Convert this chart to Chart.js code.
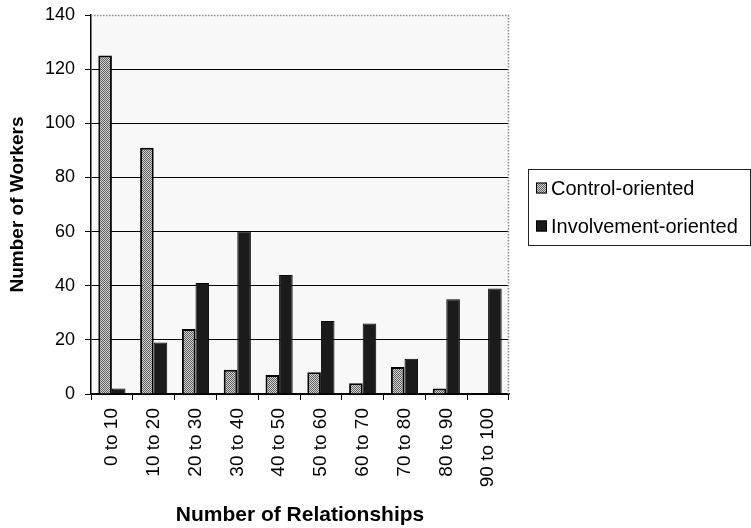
<!DOCTYPE html>
<html>
<head>
<meta charset="utf-8">
<script src="https://cdn.jsdelivr.net/npm/chart.js@4/dist/chart.umd.min.js"></script>
<style>
  html, body { margin: 0; padding: 0; background: #ffffff; }
  #c { display: block; }
</style>
</head>
<body>
<canvas id="c" width="751" height="528"></canvas>
<script>
// Distribution of workers by number of relationships
const categories = ['0 to 10', '10 to 20', '20 to 30', '30 to 40', '40 to 50',
                    '50 to 60', '60 to 70', '70 to 80', '80 to 90', '90 to 100'];
const controlOriented     = [125, 91, 24, 9, 7, 8, 4, 10, 2, 0];
const involvementOriented = [2, 19, 41, 60, 44, 27, 26, 13, 35, 39];
const seriesNames = ['Control-oriented', 'Involvement-oriented'];
const yTicks = [0, 20, 40, 60, 80, 100, 120, 140];

const FONT = "'Liberation Sans', Arial, Helvetica, sans-serif";

// Stippled grey fill used for the control-oriented bars
function makeStipple() {
  const p = document.createElement('canvas');
  p.width = 2; p.height = 2;
  const g = p.getContext('2d');
  g.fillStyle = '#d6d6d6'; g.fillRect(0, 0, 2, 2);
  g.fillStyle = '#5c5c5c'; g.fillRect(0, 0, 1, 1); g.fillRect(1, 1, 1, 1);
  return g.createPattern(p, 'repeat');
}

const ctx = document.getElementById('c').getContext('2d');
const stipple = makeStipple();
const seriesFills = [stipple, '#1b1b1b'];

// Plot background, dotted frame and boxed legend
const decorations = {
  id: 'decorations',
  beforeDraw(chart) {
    const { ctx, chartArea: a } = chart;
    ctx.save();
    ctx.fillStyle = '#f8f8f8';
    ctx.fillRect(a.left, a.top, a.right - a.left, a.bottom - a.top);
    ctx.restore();
  },
  afterDraw(chart) {
    const { ctx, chartArea: a } = chart;
    ctx.save();
    // dotted top / right frame
    ctx.strokeStyle = '#8a8a8a';
    ctx.lineWidth = 1.5;
    ctx.setLineDash([1.5, 1.5]);
    ctx.beginPath();
    ctx.moveTo(a.left, a.top + 0.5);
    ctx.lineTo(a.right - 0.5, a.top + 0.5);
    ctx.lineTo(a.right - 0.5, a.bottom);
    ctx.stroke();
    ctx.setLineDash([]);

    // legend
    const lx = 528.5, ly = 169.5, lw = 222, lh = 76;
    ctx.strokeStyle = '#222';
    ctx.lineWidth = 1;
    ctx.strokeRect(lx, ly, lw, lh);
    ctx.font = '20px ' + FONT;
    ctx.textBaseline = 'middle';
    ctx.textAlign = 'left';
    const rows = [188, 226];
    chart.data.datasets.forEach((ds, i) => {
      const cy = rows[i];
      ctx.fillStyle = seriesFills[i];
      ctx.fillRect(536, cy - 5.5, 11, 11);
      ctx.strokeStyle = '#000';
      ctx.lineWidth = 1;
      ctx.strokeRect(536.5, cy - 5, 10, 10);
      ctx.fillStyle = '#000';
      ctx.fillText(ds.label, 551, cy + 1);
    });
    ctx.restore();
  }
};

new Chart(ctx, {
  type: 'bar',
  data: {
    labels: categories,
    datasets: [
      {
        label: seriesNames[0],
        data: controlOriented,
        backgroundColor: stipple,
        borderColor: '#000',
        borderWidth: 2,
        borderSkipped: 'start',
        categoryPercentage: 0.65,
        barPercentage: 1.0
      },
      {
        label: seriesNames[1],
        data: involvementOriented,
        backgroundColor: '#1b1b1b',
        borderColor: '#000',
        borderWidth: 1,
        borderSkipped: 'start',
        categoryPercentage: 0.65,
        barPercentage: 1.0
      }
    ]
  },
  options: {
    responsive: false,
    animation: false,
    events: [],
    layout: { padding: { top: 15, right: 242, bottom: 0, left: 0 } },
    plugins: {
      legend: { display: false },
      tooltip: { enabled: false }
    },
    scales: {
      x: {
        type: 'category',
        afterFit(scale) { scale.height = 134; },
        grid: {
          offset: true,
          drawOnChartArea: false,
          drawTicks: true,
          tickLength: 6,
          color: '#000',
          tickColor: '#000',
          lineWidth: 1
        },
        border: { display: true, color: '#000', width: 1.5 },
        ticks: {
          color: '#000',
          font: { family: FONT, size: 19 },
          minRotation: 90,
          maxRotation: 90,
          autoSkip: false,
          padding: 8
        },
        title: {
          display: true,
          text: 'Number of Relationships',
          color: '#000',
          font: { family: FONT, size: 21, weight: 'bold' },
          padding: { top: 0, bottom: 0 }
        }
      },
      y: {
        min: 0,
        max: 140,
        afterFit(scale) {
          scale.width = 91;
          scale.paddingTop = 0;
          scale.paddingBottom = 0;
        },
        afterBuildTicks(scale) { scale.ticks = yTicks.map(v => ({ value: v })); },
        grid: {
          drawTicks: true,
          tickLength: 6,
          color: (c) => (c.tick && c.tick.value === 140 ? 'rgba(0,0,0,0)' : '#000'),
          tickColor: '#000',
          lineWidth: 1
        },
        border: { display: true, color: '#000', width: 1.5 },
        ticks: {
          color: '#000',
          font: { family: FONT, size: 18 },
          padding: 10
        },
        title: {
          display: true,
          text: 'Number of Workers',
          color: '#000',
          font: { family: FONT, size: 19, weight: 'bold' },
          padding: { top: 6, bottom: 0 }
        }
      }
    }
  },
  plugins: [decorations]
});
</script>
</body>
</html>
